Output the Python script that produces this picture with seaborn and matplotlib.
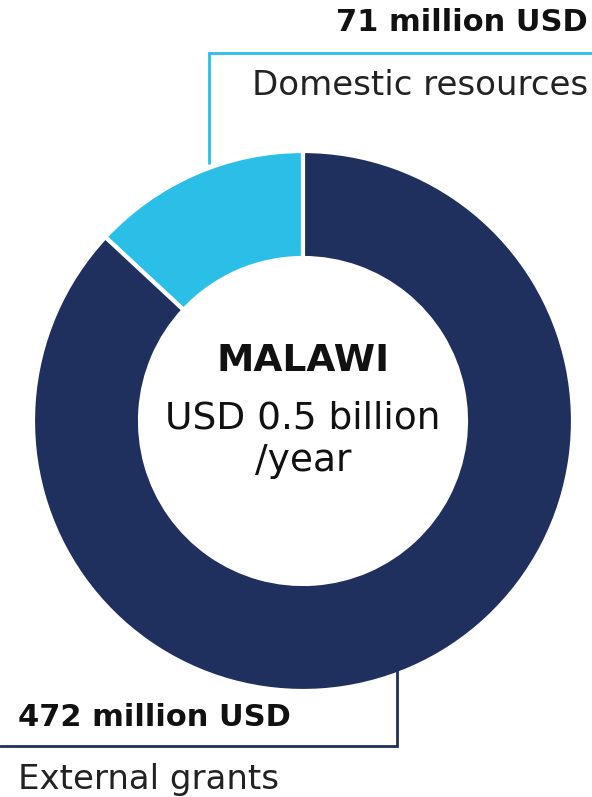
import matplotlib
matplotlib.use("Agg")
import matplotlib.pyplot as plt
import seaborn as sns

sns.set_theme(style="white")
plt.rcParams["font.family"] = ["DejaVu Sans"]

# Funding sources (million USD)
sources = ["Domestic resources", "External grants"]
amounts = [71, 472]
value_labels = ["71 million USD", "472 million USD"]
country = "MALAWI"
total_lines = ["USD 0.5 billion", "/year"]

colors = sns.color_palette(["#2bbfe8", "#1f2f5e"])
W, H = 592, 797

fig = plt.figure(figsize=(W / 100, H / 100), dpi=100)
ax = fig.add_axes([0, 0, 1, 1])

cx, cy = 303, H - 421
r_out, r_in = 270, 163
ax.pie(amounts, colors=colors, startangle=90, counterclock=True,
       center=(cx, cy), radius=r_out, frame=True,
       wedgeprops=dict(width=r_out - r_in, edgecolor="white", linewidth=3))
ax.set_xlim(0, W)
ax.set_ylim(0, H)
ax.set_aspect("equal")
ax.axis("off")

# Center label
ax.text(cx, H - 361, country, ha="center", va="center", fontsize=27,
        fontweight="bold", color="#111111")
for line, y in zip(total_lines, [418, 461]):
    ax.text(cx, H - y, line, ha="center", va="center", fontsize=27,
            color="#111111")

# Domestic resources leader and labels
ax.plot([592, 209, 209], [H - 53, H - 53, H - 163], color=colors[0], lw=2,
        solid_joinstyle="miter")
ax.text(588, H - 22, value_labels[0], ha="right", va="center", fontsize=22,
        fontweight="bold", color="#111111")
ax.text(588, H - 85, sources[0], ha="right", va="center", fontsize=24.5,
        color="#222222")

# External grants leader and labels
ax.plot([0, 397, 397], [H - 746, H - 746, H - 637], color=colors[1], lw=2,
        solid_joinstyle="miter")
ax.text(18, H - 717, value_labels[1], ha="left", va="center", fontsize=22,
        fontweight="bold", color="#111111")
ax.text(18, H - 779, sources[1], ha="left", va="center", fontsize=24.5,
        color="#222222")

fig.savefig("out.png", dpi=100, facecolor="white")
